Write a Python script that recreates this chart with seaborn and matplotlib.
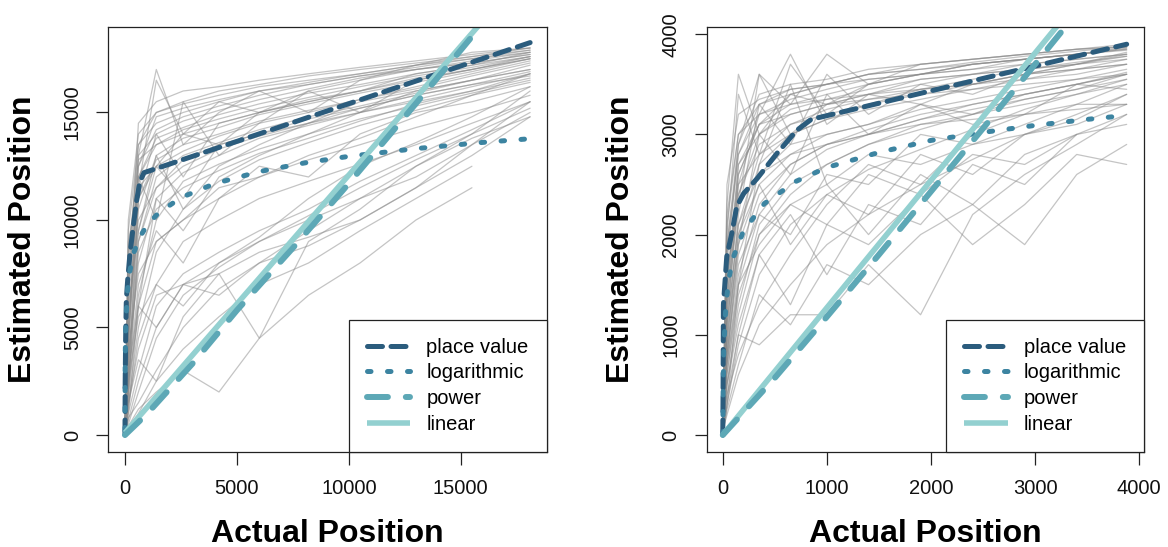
import numpy as np
import pandas as pd
import matplotlib
matplotlib.use('Agg')
import matplotlib.pyplot as plt
import seaborn as sns

nan = np.nan

# number line 0-18000: stimulus positions and participant estimates
stim_big = [0, 150, 600, 1400, 2600, 4200, 6000, 8200, 10500, 13000, 15500, 18100]
est_big = [
    [0, 6000, 12500, 14200, 14800, 15300, 15800, 16300, 16700, 17100, 17500, 17900],
    [100, 4500, 10500, 13000, 13800, 14300, 14900, 15400, 15900, 16400, 16900, 17500],
    [0, 8000, 13500, 15000, 15400, 15800, 16200, 16500, 16800, 17200, 17600, 18000],
    [200, 3000, 9000, 12000, 13000, 13600, 14200, 14800, 15300, 15900, 16500, 17000],
    [0, 5000, 11000, 12800, 13500, 14000, 14600, 15100, 15600, 16100, 16700, 17300],
    [300, 2000, 6500, 10000, 11800, 12600, 13300, 14000, 14700, 15300, 15900, 16500],
    [0, 7000, 12000, 13500, 14200, 14700, 15200, 15700, 16200, 16700, 17100, 17600],
    [100, 3500, 8000, 11000, 12200, 13000, 13800, 14400, 15000, 15600, 16200, 16800],
    [0, 1500, 5000, 8500, 10500, 11800, 12800, 13600, 14400, 15100, 15800, 16400],
    [200, 9000, 11500, 16500, 14000, 15500, 15000, 16000, 16500, 17000, 17300, 17700],
    [0, 2500, 7000, 9500, 8000, 11000, 12500, 12000, 14000, 15000, 15500, 16200],
    [100, 1000, 3000, 6000, 7500, 8500, 9500, 10500, 11800, 13000, 14200, 15500],
    [0, 500, 2000, 4500, 6500, 7800, 9000, 10200, 11500, 12800, 14000, 15200],
    [300, 4000, 12000, 10000, 15500, 13000, 14500, 16000, 15000, 16500, 17000, 17600],
    [0, 800, 1500, 3000, 5000, 6800, 8000, 8800, 10000, 11500, 13000, 14800],
    [100, 1200, 4500, 7000, 9000, 10000, 11000, 11800, 12600, 13500, 14500, 15500],
    [0, 6000, 9500, 12500, 11000, 13500, 14000, 14500, 15500, 16000, 16500, 17000],
    [200, 300, 1000, 2500, 4000, 5500, 7000, 8000, 9500, 11000, 12500, nan],
    [0, 3000, 6000, 5000, 7000, 6500, 8000, 9500, 11000, 12000, 13500, 15000],
    [100, 10000, 14000, 15000, 15500, 16000, 16300, 16700, 17000, 17300, 17600, 17900],
    [0, 2000, 11000, 14000, 12000, 14500, 15000, 15500, 16000, 16800, 17200, 17800],
    [200, 1500, 3500, 2500, 5500, 7500, 4500, 9000, 10500, 12500, 14000, 16000],
    [0, 5500, 10000, 11500, 12500, 13300, 13900, 14500, 15200, 15800, 16300, 16900],
    [100, 700, 2500, 5000, 7000, 8000, 9200, 11000, 12500, 13600, 14800, 16200],
    [0, 4000, 13000, 17000, 13500, 15000, 16000, 15000, 16500, 17200, 17800, 18000],
    [300, 2500, 8500, 10500, 11500, 12300, 13100, 13800, 14600, 15400, 16000, 16600],
    [0, 400, 1200, 2000, 3000, 2000, 4500, 6500, 8000, 10000, 11500, nan],
    [100, 7500, 13000, 14000, 14600, 15100, 15600, 16100, 16600, 17000, 17400, 17800],
    [0, 1800, 6000, 9000, 10000, 11500, 12000, 13000, 13800, 14800, 15800, 16800],
    [200, 3500, 9500, 13000, 10500, 12500, 13500, 14500, 15000, 16000, 16500, 17200],
    [0, 9500, 13500, 14500, 15000, 15500, 16000, 16400, 16800, 17200, 17500, 17800],
    [100, 5000, 12000, 13800, 14300, 14900, 15400, 15900, 16300, 16800, 17200, 17600],
    [0, 3000, 11000, 12500, 13200, 13900, 14500, 15000, 15600, 16200, 16800, 17400],
    [200, 6500, 14500, 15500, 16000, 16200, 16500, 16800, 17100, 17400, 17700, 18000],
    [0, 2000, 9000, 11500, 12800, 13500, 14000, 14700, 15200, 15800, 16300, 16700],
    [100, 4000, 7500, 9000, 10000, 11000, 12000, 12800, 13500, 14300, 15000, 15800],
    [0, 1500, 4000, 6500, 7000, 7500, 8500, 9200, 10000, 11500, 13500, 15500],
    [300, 7000, 11500, 12500, 14000, 13500, 15000, 15500, 16000, 16500, 17000, 17500],
    [0, 1000, 6000, 11000, 9500, 12000, 13000, 14000, 15000, 15500, 16000, 16800],
    [100, 8500, 12800, 13500, 14000, 14500, 15000, 15600, 16000, 16600, 17000, 17500],
    [0, 2500, 5500, 7000, 6000, 8000, 9000, 10000, 11000, 12500, 13800, 14800],
    [200, 4500, 12500, 14800, 15200, 15600, 16000, 16300, 16700, 17000, 17300, 17700],
]

# number line 0-4000
stim_small = [0, 40, 150, 350, 650, 1000, 1400, 1900, 2400, 2900, 3400, 3880]
est_small = [
    [0, 1500, 2600, 3100, 3300, 3400, 3500, 3600, 3700, 3750, 3800, 3850],
    [50, 900, 2000, 2700, 3000, 3150, 3250, 3350, 3450, 3550, 3650, 3750],
    [0, 1800, 2800, 3300, 3450, 3500, 3600, 3650, 3720, 3780, 3830, 3880],
    [100, 600, 1500, 2200, 2600, 2850, 3000, 3150, 3300, 3400, 3500, 3600],
    [0, 1200, 2300, 3600, 3000, 3300, 3400, 3550, 3600, 3700, 3750, 3800],
    [50, 300, 900, 1600, 2100, 2400, 2650, 2850, 3050, 3250, 3400, 3550],
    [0, 2000, 3400, 2800, 3700, 3200, 3500, 3600, 3650, 3750, 3800, 3870],
    [100, 500, 1200, 2000, 2400, 2700, 2900, 3100, 3200, 3350, 3450, 3600],
    [0, 1000, 1900, 2500, 2800, 3000, 3100, 3250, 3350, 3450, 3550, 3650],
    [50, 200, 600, 1100, 1500, 1900, 2200, 2500, 2750, 3000, 3200, 3400],
    [0, 1500, 2500, 3200, 3800, 3100, 3400, 3300, 3500, 3600, 3700, 3750],
    [100, 400, 1000, 900, 1200, 1200, 1700, 1200, 2200, 2600, 2900, 3200],
    [0, 800, 1700, 2200, 2000, 2600, 2500, 3000, 2900, 3100, 3300, 3500],
    [50, 1300, 2700, 3000, 3200, 3300, 3400, 3500, 3600, 3650, 3700, 3800],
    [0, 300, 1500, 2700, 3500, 2500, 2000, 2600, 2300, 2800, 3000, nan],
    [100, 700, 1600, 2300, 2700, 2900, 3050, 3200, 3300, 3400, 3500, 3620],
    [0, 2200, 3000, 3200, 3300, 3350, 3400, 3450, 3500, 3550, 3600, 3700],
    [50, 500, 1100, 1800, 1300, 2100, 1900, 2400, 1900, 2300, 2800, 2700],
    [0, 1600, 2400, 2900, 3100, 3200, 3300, 3400, 3500, 3600, 3700, 3780],
    [100, 900, 2200, 3300, 2900, 3600, 3200, 3500, 3400, 3600, 3650, 3700],
    [0, 400, 800, 1300, 1800, 2300, 2700, 2500, 3000, 3200, 3500, 3600],
    [50, 1100, 2100, 2600, 2900, 3000, 3100, 3300, 3200, 3400, 3500, 3450],
    [0, 700, 1900, 3000, 2600, 3400, 3000, 3300, 3100, 3200, 3300, 3300],
    [100, 1300, 2500, 2800, 3000, 3150, 3300, 3450, 3550, 3650, 3700, 3820],
    [0, 250, 700, 1400, 1100, 1700, 1500, 2000, 2300, 1900, 2600, 2900],
    [50, 1900, 2900, 3600, 3300, 3800, 3500, 3700, 3750, 3800, 3850, 3870],
    [0, 600, 1400, 2000, 2300, 2500, 2800, 2700, 2900, 3000, 3100, 3300],
    [100, 1400, 2300, 2600, 2800, 2900, 3000, 3100, 3150, 3200, 3250, 3300],
    [0, 1000, 2600, 3100, 3400, 3500, 3600, 3700, 3750, 3800, 3850, 3900],
    [50, 800, 2000, 2500, 1900, 2400, 2200, 2800, 2600, 3000, 3150, 3400],
    [0, 2500, 3200, 3350, 3450, 3500, 3550, 3600, 3650, 3700, 3750, 3800],
    [50, 1700, 2900, 3400, 3500, 3550, 3650, 3700, 3750, 3800, 3850, 3880],
    [0, 1100, 2100, 2800, 3100, 3250, 3350, 3450, 3500, 3600, 3650, 3700],
    [100, 2300, 3600, 3000, 3400, 3300, 3500, 3600, 3700, 3750, 3800, 3850],
    [0, 800, 1800, 2400, 2700, 2900, 3000, 3150, 3250, 3350, 3450, 3550],
    [50, 1500, 2700, 3100, 3200, 3300, 3350, 3400, 3450, 3500, 3550, 3600],
    [0, 500, 1300, 2100, 2500, 2700, 2900, 3050, 3200, 3300, 3400, 3500],
    [100, 1900, 2800, 3200, 3350, 3450, 3550, 3600, 3700, 3750, 3800, 3860],
    [0, 300, 1000, 1800, 2200, 1600, 2300, 2100, 2700, 2500, 3000, 3200],
    [50, 2100, 3000, 3300, 3400, 3500, 3600, 3650, 3700, 3750, 3800, 3840],
    [0, 1200, 2400, 3000, 3250, 3350, 3450, 3550, 3600, 3650, 3720, 3780],
    [100, 700, 1500, 1900, 2300, 2100, 2600, 2400, 2800, 2700, 3000, 3100],
]

# fitted model curves, 0-18000
pv_x_big = [0, 10, 30, 60, 120, 220, 370, 520, 670, 850, 18100]
pv_y_big = [0, 2500, 4500, 6300, 7200, 8400, 9700, 10900, 11800, 12200, 18250]
log_x_big = [1, 10, 30, 100, 200, 400, 700, 1000, 1500, 2500, 4000, 6000, 8000, 10000, 13000, 16000, 18100]
log_y_big = [190, 3390, 4910, 6580, 7540, 8500, 9270, 9770, 10330, 11040, 11690, 12250, 12650, 12960, 13320, 13610, 13780]
pow_x_big = [0, 1000, 3000, 5000, 7500, 10000, 12500, 15000, 18100]
pow_y_big = [0, 1000, 3300, 5800, 8700, 11700, 14800, 17900, 21800]
lin_x_big = [0, 18100]
lin_y_big = [100, 21800]

# fitted model curves, 0-4000
pv_x_small = [0, 3, 6, 38, 86, 134, 200, 330, 520, 710, 850, 3880]
pv_y_small = [0, 500, 1300, 1780, 2010, 2280, 2410, 2560, 2810, 3040, 3150, 3900]
log_x_small = [1, 3, 10, 30, 60, 100, 200, 400, 700, 1000, 1500, 2000, 2500, 3000, 3500, 3880]
log_y_small = [0, 400, 870, 1300, 1570, 1770, 2040, 2310, 2530, 2670, 2820, 2940, 3020, 3090, 3150, 3190]
pow_x_small = [0, 500, 1000, 1500, 2000, 2500, 3000, 3500, 3880]
pow_y_small = [0, 570, 1180, 1800, 2430, 3060, 3700, 4340, 4830]
lin_x_small = [0, 3880]
lin_y_small = [0, 4930]

model_names = ['place value', 'logarithmic', 'power', 'linear']
model_colors = ['#2b5c7d', '#3c84a1', '#5da8b6', '#93d0d0']

sns.set_theme(style='ticks', rc={
    'axes.edgecolor': '#222222', 'axes.linewidth': 0.9,
    'xtick.color': '#222222', 'ytick.color': '#222222',
    'xtick.labelcolor': '#111111', 'ytick.labelcolor': '#111111',
    'xtick.major.size': 9, 'ytick.major.size': 9,
    'xtick.major.width': 0.9, 'ytick.major.width': 0.9,
    'text.color': 'black', 'axes.labelcolor': 'black',
})
plt.rcParams['font.family'] = ['Liberation Sans', 'DejaVu Sans']

fig = plt.figure(figsize=(11.68, 5.47), dpi=100)
ax_l = fig.add_axes([0.0927, 0.1742, 0.3754, 0.7759])
ax_r = fig.add_axes([0.6051, 0.1742, 0.3744, 0.7759])


def draw_panel(ax, stim, est, models, xlim, ylim, ticks):
    rows = []
    for pid, ys in enumerate(est):
        for x, y in zip(stim, ys):
            if not np.isnan(y):
                rows.append((pid, x, y))
    df = pd.DataFrame(rows, columns=['participant', 'actual', 'estimate'])
    sns.lineplot(data=df, x='actual', y='estimate', units='participant', estimator=None,
                 color='#8a8a8a', alpha=0.5, linewidth=0.9, sort=False, legend=False, ax=ax)

    styles = {
        'place value': dict(linewidth=3.6, linestyle=(0, (3.0, 1.7)), dash_capstyle='round'),
        'logarithmic': dict(linewidth=3.6, linestyle=(0, (0.7, 3.3)), dash_capstyle='round'),
        'power': dict(linewidth=4.3, linestyle=(0, (3.5, 3.0)), dash_capstyle='round'),
        'linear': dict(linewidth=4.0, linestyle='-', solid_capstyle='butt'),
    }
    handles = {}
    for name in ['place value', 'logarithmic', 'linear', 'power']:
        mx, my = models[name]
        col = model_colors[model_names.index(name)]
        sns.lineplot(x=mx, y=my, color=col, sort=False, legend=False, ax=ax, **styles[name])
        line = ax.lines[-1]
        line.set_label(name)
        handles[name] = line

    ax.set_xlim(xlim)
    ax.set_ylim(ylim)
    ax.set_xticks(ticks)
    ax.set_yticks(ticks)
    ax.set_xticklabels([str(t) for t in ticks])
    ax.set_yticklabels([str(t) for t in ticks], rotation=90, va='center')
    ax.tick_params(axis='x', labelsize=14.5, pad=11)
    ax.tick_params(axis='y', labelsize=14.5, pad=10)
    for s in ax.spines.values():
        s.set_visible(True)

    ax.set_xlabel('Actual Position', fontsize=23, fontweight='bold', va='center')
    ax.set_ylabel('Estimated Position', fontsize=23, fontweight='bold', va='center')
    ax.xaxis.set_label_coords(0.5, -0.193)
    ax.yaxis.set_label_coords(-0.195, 0.5)

    leg = ax.legend(handles=[handles[n] for n in model_names], loc='lower right',
                    bbox_to_anchor=(1, 0), borderaxespad=0, fontsize=14.5,
                    handlelength=2.15, handletextpad=0.8, labelspacing=0.33,
                    borderpad=0.9, fancybox=False, framealpha=1)
    leg.get_frame().set_edgecolor('#222222')
    leg.get_frame().set_linewidth(0.9)


draw_panel(ax_l, stim_big, est_big,
           {'place value': (pv_x_big, pv_y_big), 'logarithmic': (log_x_big, log_y_big),
            'power': (pow_x_big, pow_y_big), 'linear': (lin_x_big, lin_y_big)},
           (-746, 18842), (-777, 18962), [0, 5000, 10000, 15000])
draw_panel(ax_r, stim_small, est_small,
           {'place value': (pv_x_small, pv_y_small), 'logarithmic': (log_x_small, log_y_small),
            'power': (pow_x_small, pow_y_small), 'linear': (lin_x_small, lin_y_small)},
           (-154, 4047), (-167, 4069), [0, 1000, 2000, 3000, 4000])

fig.savefig('out.png', dpi=100, facecolor='white')
